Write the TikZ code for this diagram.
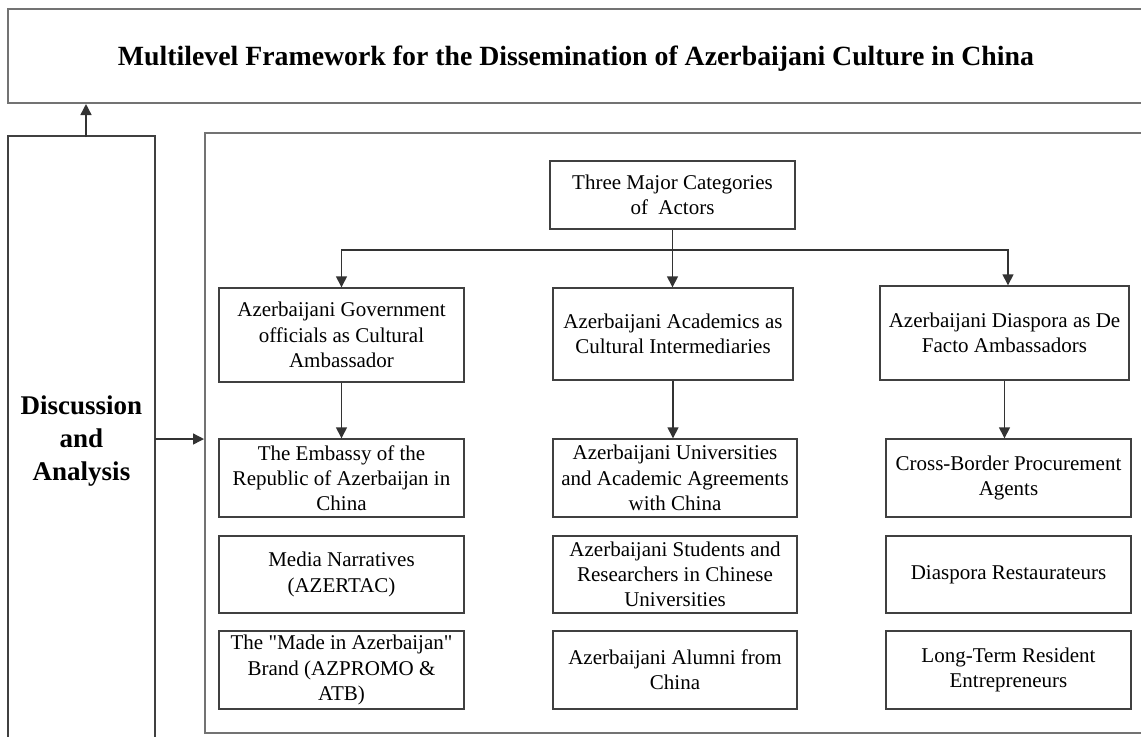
\documentclass[tikz,border=0pt]{standalone}
\usepackage{fontspec}
\setmainfont{Liberation Serif}
\usetikzlibrary{arrows.meta,calc}
\begin{document}
\begin{tikzpicture}[x=0.5pt,y=-0.5pt,
  frame/.style={draw=black!55,line width=1pt,inner sep=0pt},
  box/.style={draw=black!75,line width=0.7pt,inner sep=0pt,align=center,
    font=\fontsize{10.5pt}{12.6pt}\selectfont},
  arr/.style={draw=black!80,line width=0.7pt,-{Triangle[length=5.5pt,width=5.5pt]}},
  ln/.style={draw=black!80,line width=0.7pt}]
\useasboundingbox (0,0) rectangle (1141,736);
\clip (0,0) rectangle (1141,736);
\fill[white] (0,0) rectangle (1141,736);
% frames
\node[frame,minimum width=1136*0.5pt,minimum height=94*0.5pt,
  text height=1.15em,text depth=0.25em,
  font=\bfseries\fontsize{13.9pt}{16pt}\selectfont] (title) at (576,56)
  {Multilevel Framework for the Dissemination of Azerbaijani Culture in China};
\node[frame,minimum width=950*0.5pt,minimum height=600*0.5pt] (main) at (680,433) {};
\node[draw=black!75,line width=0.8pt,inner sep=0pt,minimum width=147*0.5pt,
  minimum height=610*0.5pt,align=center,
  font=\bfseries\fontsize{13.5pt}{16.5pt}\selectfont] (disc) at (81.5,441)
  {Discussion\\and\\Analysis};
% top
\node[box,minimum width=245*0.5pt,minimum height=68*0.5pt] (three) at (672.5,195)
  {Three Major Categories\\of\ \ Actors};
\node[box,minimum width=245*0.5pt,minimum height=94*0.5pt] (gov) at (341.5,335)
  {Azerbaijani Government\\officials as Cultural\\Ambassador};
\node[box,minimum width=240*0.5pt,minimum height=92*0.5pt] (acad) at (673,334)
  {Azerbaijani Academics as\\Cultural Intermediaries};
\node[box,minimum width=249*0.5pt,minimum height=94*0.5pt] (dias) at (1004.5,333)
  {Azerbaijani Diaspora as De\\Facto Ambassadors};
% column 1
\node[box,minimum width=245*0.5pt,minimum height=78*0.5pt] (emb) at (341.5,478)
  {The Embassy of the\\Republic of Azerbaijan in\\China};
\node[box,minimum width=245*0.5pt,minimum height=77*0.5pt] (media) at (341.5,574.5)
  {Media Narratives\\(AZERTAC)};
\node[box,minimum width=245*0.5pt,minimum height=78*0.5pt] (made) at (341.5,670)
  {The \textquotedbl Made in Azerbaijan\textquotedbl\\Brand (AZPROMO \&\\ATB)};
% column 2
\node[box,minimum width=244*0.5pt,minimum height=78*0.5pt] (univ) at (675,478)
  {Azerbaijani Universities\\and Academic Agreements\\with China};
\node[box,minimum width=244*0.5pt,minimum height=77*0.5pt] (stud) at (675,574.5)
  {Azerbaijani Students and\\Researchers in Chinese\\Universities};
\node[box,minimum width=244*0.5pt,minimum height=78*0.5pt] (alum) at (675,670)
  {Azerbaijani Alumni from\\China};
% column 3
\node[box,minimum width=245*0.5pt,minimum height=78*0.5pt] (cross) at (1008.5,478)
  {Cross-Border Procurement\\Agents};
\node[box,minimum width=245*0.5pt,minimum height=77*0.5pt] (rest) at (1008.5,574.5)
  {Diaspora Restaurateurs};
\node[box,minimum width=245*0.5pt,minimum height=78*0.5pt] (long) at (1008.5,670)
  {Long-Term Resident\\Entrepreneurs};
% connectors
\coordinate (hl) at (672.5,250);
\draw[arr] (three.south) -- (three.south |- acad.north);
\draw[arr] (hl) -| (gov.north);
\draw[arr] (hl) -| ($(dias.north)+(3.5,0)$);
\draw[arr] (gov.south) -- (emb.north);
\draw[arr] (acad.south) -- (acad.south |- univ.north);
\draw[arr] (dias.south) -- (dias.south |- cross.north);
\coordinate (up) at (86,137);
\draw[arr] (up) -- (up |- title.south);
\coordinate (da) at (155,439);
\draw[arr] (da) -- (da -| main.west);
\end{tikzpicture}
\end{document}
